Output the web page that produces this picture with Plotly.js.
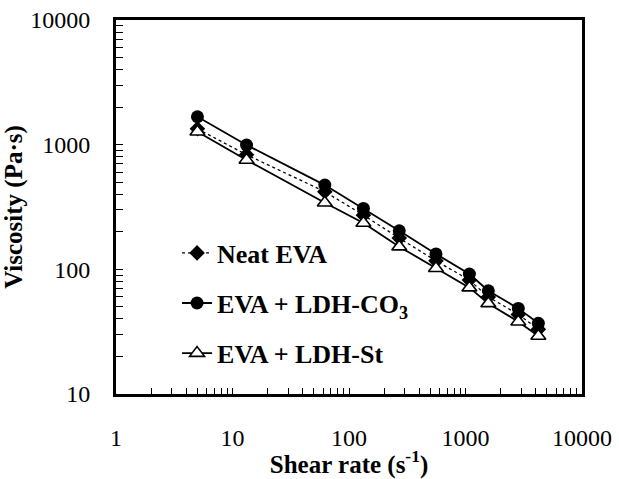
<!DOCTYPE html>
<html>
<head>
<meta charset="utf-8">
<script src="https://cdn.plot.ly/plotly-3.0.1.min.js"></script>
<style>html,body{margin:0;padding:0;background:#fff;}#chart{width:619px;height:479px;}</style>
</head>
<body>
<div id="chart"></div>
<script>
// Shear rate (s^-1)
const shearRate = [5, 13.2, 62, 133, 270, 558, 1080, 1570, 2840, 4220];
// Viscosity (Pa·s)
const neatEVA = [1340, 830, 420, 272, 178, 117, 82, 60, 43.5, 33];
const evaLdhCO3 = [1675, 993, 474, 308, 204, 133, 91.6, 67.3, 48.6, 36.9];
const evaLdhSt = [1270, 754, 342, 235, 152, 102, 71.3, 53.3, 38, 29.2];

const seriesNames = ['Neat EVA', 'EVA + LDH-CO<sub>3</sub>', 'EVA + LDH-St'];
// Axis ticks (major values labelled, minor values unlabelled)
const xTickVals = [1, 2, 3, 4, 5, 6, 7, 8, 9, 10, 20, 30, 40, 50, 60, 70, 80, 90,
  100, 200, 300, 400, 500, 600, 700, 800, 900, 1000, 2000, 3000, 4000, 5000, 6000, 7000, 8000, 9000, 10000];
const xTickText = ['1', '', '', '', '', '', '', '', '', '10', '', '', '', '', '', '', '', '',
  '100', '', '', '', '', '', '', '', '', '1000', '', '', '', '', '', '', '', '', '10000'];
const yTickVals = [10, 20, 30, 40, 50, 60, 70, 80, 90, 100, 200, 300, 400, 500, 600, 700, 800, 900,
  1000, 2000, 3000, 4000, 5000, 6000, 7000, 8000, 9000, 10000];
const yTickText = ['10', '', '', '', '', '', '', '', '', '100', '', '', '', '', '', '', '', '',
  '1000', '', '', '', '', '', '', '', '', '10000'];

const serif = '"Liberation Serif", serif';

const traces = [
  {
    x: shearRate, y: neatEVA, name: seriesNames[0], type: 'scatter', mode: 'lines+markers',
    line: {color: '#000', width: 1.3, dash: '3px,3px'},
    marker: {symbol: 'diamond', size: 12, color: '#000'},
    legend: 'legend'
  },
  {
    x: shearRate, y: evaLdhSt, name: seriesNames[2], type: 'scatter', mode: 'lines+markers',
    line: {color: '#000', width: 1.8},
    marker: {symbol: 'triangle-up', size: 13, color: '#fff', line: {color: '#000', width: 1.6}},
    legend: 'legend3'
  },
  {
    x: shearRate, y: evaLdhCO3, name: seriesNames[1], type: 'scatter', mode: 'lines+markers',
    line: {color: '#000', width: 1.8},
    marker: {symbol: 'circle', size: 13, color: '#000'},
    legend: 'legend2'
  }
];

const legendBase = {
  x: 0.131, xanchor: 'left', yanchor: 'middle',
  bgcolor: 'rgba(0,0,0,0)', borderwidth: 0,
  font: {family: serif, size: 26, color: '#000', weight: 'bold'},
  itemwidth: 30
};

const layout = {
  width: 619, height: 479,
  margin: {l: 116, r: 37, t: 20, b: 85},
  paper_bgcolor: '#fff', plot_bgcolor: '#fff',
  font: {family: serif, size: 24, color: '#000'},
  xaxis: {
    type: 'log', range: [0, 4],
    tickmode: 'array', tickvals: xTickVals, ticktext: xTickText,
    ticks: 'inside', ticklen: 6, tickwidth: 1, tickcolor: '#000',
    showline: true, linewidth: 3, linecolor: '#000', mirror: true,
    showgrid: false, zeroline: false,
    tickfont: {family: serif, size: 24, color: '#000'},
    ticklabelstandoff: 20,
    title: {text: 'Shear rate (s<sup>-1</sup>)', font: {family: serif, size: 25, color: '#000', weight: 'bold'}, standoff: 0}
  },
  yaxis: {
    type: 'log', range: [1, 4],
    tickmode: 'array', tickvals: yTickVals, ticktext: yTickText,
    ticks: 'inside', ticklen: 7, tickwidth: 1, tickcolor: '#000',
    showline: true, linewidth: 3, linecolor: '#000', mirror: true,
    showgrid: false, zeroline: false,
    tickfont: {family: serif, size: 24, color: '#000'},
    ticklabelstandoff: 18,
    title: {text: 'Viscosity (Pa·s)', font: {family: serif, size: 25, color: '#000', weight: 'bold'}, standoff: 8}
  },
  legend: Object.assign({}, legendBase, {y: 0.377}),
  legend2: Object.assign({}, legendBase, {y: 0.243}),
  legend3: Object.assign({}, legendBase, {y: 0.109}),
  showlegend: true
};

Plotly.newPlot('chart', traces, layout, {displayModeBar: false, staticPlot: true});
</script>
</body>
</html>
